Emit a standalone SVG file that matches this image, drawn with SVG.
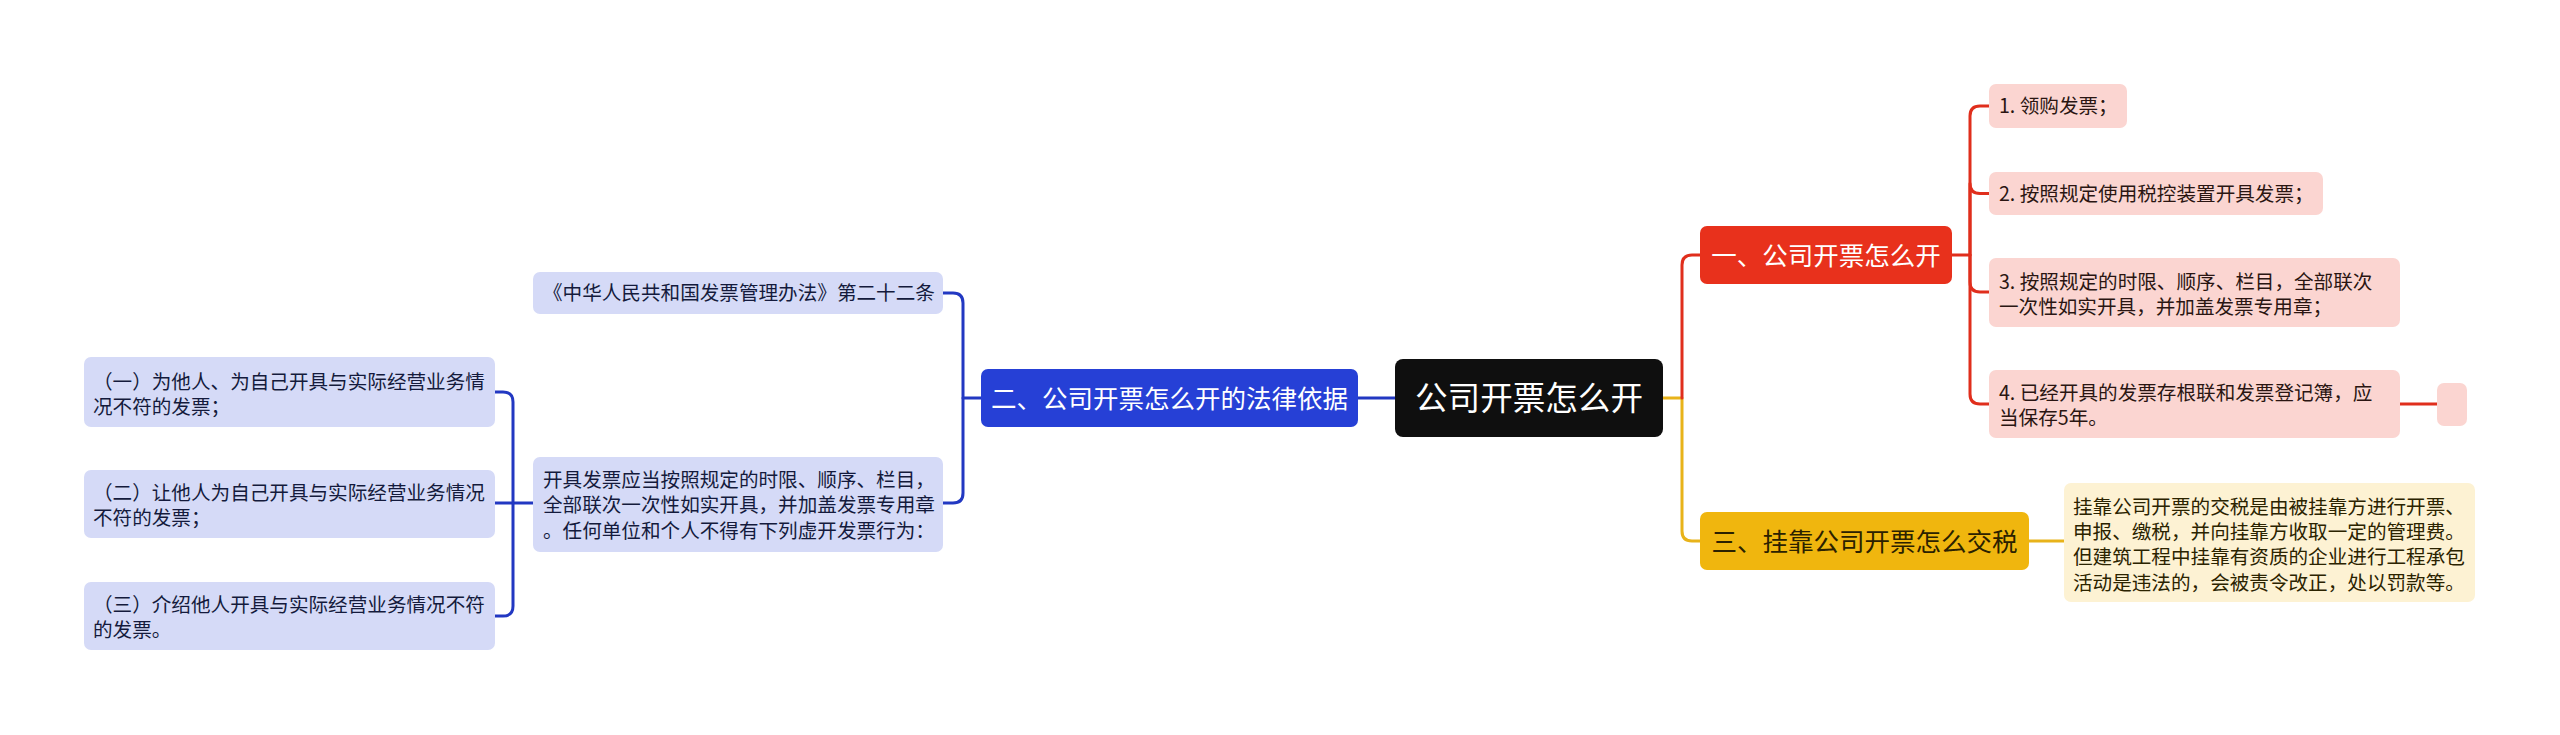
<svg xmlns="http://www.w3.org/2000/svg" width="2560" height="735" viewBox="0 0 2560 735">
<style>
text{font-family:"Noto Sans CJK SC","Noto Sans",sans-serif;}
.c{fill:none;stroke-width:3;stroke-linecap:round;stroke-linejoin:round;}
.cr{stroke:#e02e1c;}
.cb{stroke:#2238c2;}
.cy{stroke:#e8b31a;}
.main{font-size:25.5px;}
.sm{font-size:19.6px;}
.rc{fill:#fbd5d1;}
.rct{fill:#2a1512;}
.bc{fill:#d5daf7;}
.bct{fill:#141a3c;}
</style>
<rect width="2560" height="735" fill="#ffffff"/>
<g id="connectors">
<path class="c cy" d="M1663,398 H1682 V531 Q1682,541 1692,541 H1700"/>
<path class="c cr" d="M1682,398 V265 Q1682,255 1692,255 H1700"/>
<path class="c cr" d="M1952,255 H1970 V116 Q1970,106 1980,106 H1989"/>
<path class="c cr" d="M1970,255 V183.5 Q1970,193.5 1980,193.5 H1989"/>
<path class="c cr" d="M1970,255 V282 Q1970,292 1980,292 H1989"/>
<path class="c cr" d="M1970,255 V394 Q1970,404 1980,404 H1989"/>
<path class="c cr" d="M2400,404 H2437"/>
<path class="c cy" d="M2029,541 H2064"/>
<path class="c cb" d="M1395,398 H1358"/>
<path class="c cb" d="M981,398 H963 V303 Q963,293 953,293 H943"/>
<path class="c cb" d="M963,398 V493 Q963,503 953,503 H943"/>
<path class="c cb" d="M533,503 H513 V402 Q513,392 503,392 H495"/>
<path class="c cb" d="M513,503 H495"/>
<path class="c cb" d="M513,503 V606 Q513,616 503,616 H495"/>
</g>
<g id="root">
<rect x="1395" y="359" width="268" height="78" rx="8" fill="#0f0f0f"/>
<text x="1529" y="410" font-size="32.6" fill="#ffffff" text-anchor="middle">公司开票怎么开</text>
</g>
<g id="n1">
<rect x="1700" y="226" width="252" height="58" rx="7" fill="#e8311c"/>
<text class="main" x="1826" y="264.5" fill="#ffffff" text-anchor="middle">一、公司开票怎么开</text>
</g>
<g id="n1-1">
<rect class="rc" x="1989" y="84" width="138" height="44" rx="7"/>
<text class="sm rct" x="1999" y="113">1. 领购发票；</text>
</g>
<g id="n1-2">
<rect class="rc" x="1989" y="172" width="334" height="43" rx="7"/>
<text class="sm rct" x="1999" y="201">2. 按照规定使用税控装置开具发票；</text>
</g>
<g id="n1-3">
<rect class="rc" x="1989" y="258" width="411" height="69" rx="7"/>
<text class="sm rct" x="1999" y="289">3. 按照规定的时限、顺序、栏目，全部联次</text>
<text class="sm rct" x="1999" y="314">一次性如实开具，并加盖发票专用章；</text>
</g>
<g id="n1-4">
<rect class="rc" x="1989" y="370" width="411" height="68" rx="7"/>
<text class="sm rct" x="1999" y="400">4. 已经开具的发票存根联和发票登记簿，应</text>
<text class="sm rct" x="1999" y="425">当保存5年。</text>
</g>
<g id="n1-4-1">
<rect class="rc" x="2437" y="383" width="30" height="43" rx="7"/>
</g>
<g id="n3">
<rect x="1700" y="512" width="329" height="58" rx="7" fill="#f0b60e"/>
<text class="main" x="1864.5" y="550.5" fill="#2b2100" text-anchor="middle">三、挂靠公司开票怎么交税</text>
</g>
<g id="n3-1">
<rect x="2064" y="483" width="411" height="119" rx="7" fill="#fdf2d3"/>
<text class="sm" x="2073" y="514" fill="#2b2300">挂靠公司开票的交税是由被挂靠方进行开票、</text>
<text class="sm" x="2073" y="539" fill="#2b2300">申报、缴税，并向挂靠方收取一定的管理费。</text>
<text class="sm" x="2073" y="564" fill="#2b2300">但建筑工程中挂靠有资质的企业进行工程承包</text>
<text class="sm" x="2073" y="590" fill="#2b2300">活动是违法的，会被责令改正，处以罚款等。</text>
</g>
<g id="n2">
<rect x="981" y="369" width="377" height="58" rx="7" fill="#2640d6"/>
<text class="main" x="1169.5" y="407.5" fill="#ffffff" text-anchor="middle">二、公司开票怎么开的法律依据</text>
</g>
<g id="n2-1">
<rect class="bc" x="533" y="272" width="410" height="42" rx="7"/>
<text class="sm bct" x="543" y="300">《中华人民共和国发票管理办法》第二十二条</text>
</g>
<g id="n2-2">
<rect class="bc" x="533" y="457" width="410" height="95" rx="7"/>
<text class="sm bct" x="543" y="487">开具发票应当按照规定的时限、顺序、栏目，</text>
<text class="sm bct" x="543" y="512">全部联次一次性如实开具，并加盖发票专用章</text>
<text class="sm bct" x="543" y="538">。任何单位和个人不得有下列虚开发票行为：</text>
</g>
<g id="n2-2-1">
<rect class="bc" x="84" y="357" width="411" height="70" rx="7"/>
<text class="sm bct" x="93" y="389">（一）为他人、为自己开具与实际经营业务情</text>
<text class="sm bct" x="93" y="414">况不符的发票；</text>
</g>
<g id="n2-2-2">
<rect class="bc" x="84" y="470" width="411" height="68" rx="7"/>
<text class="sm bct" x="93" y="500">（二）让他人为自己开具与实际经营业务情况</text>
<text class="sm bct" x="93" y="525">不符的发票；</text>
</g>
<g id="n2-2-3">
<rect class="bc" x="84" y="582" width="411" height="68" rx="7"/>
<text class="sm bct" x="93" y="612">（三）介绍他人开具与实际经营业务情况不符</text>
<text class="sm bct" x="93" y="637">的发票。</text>
</g>
</svg>
